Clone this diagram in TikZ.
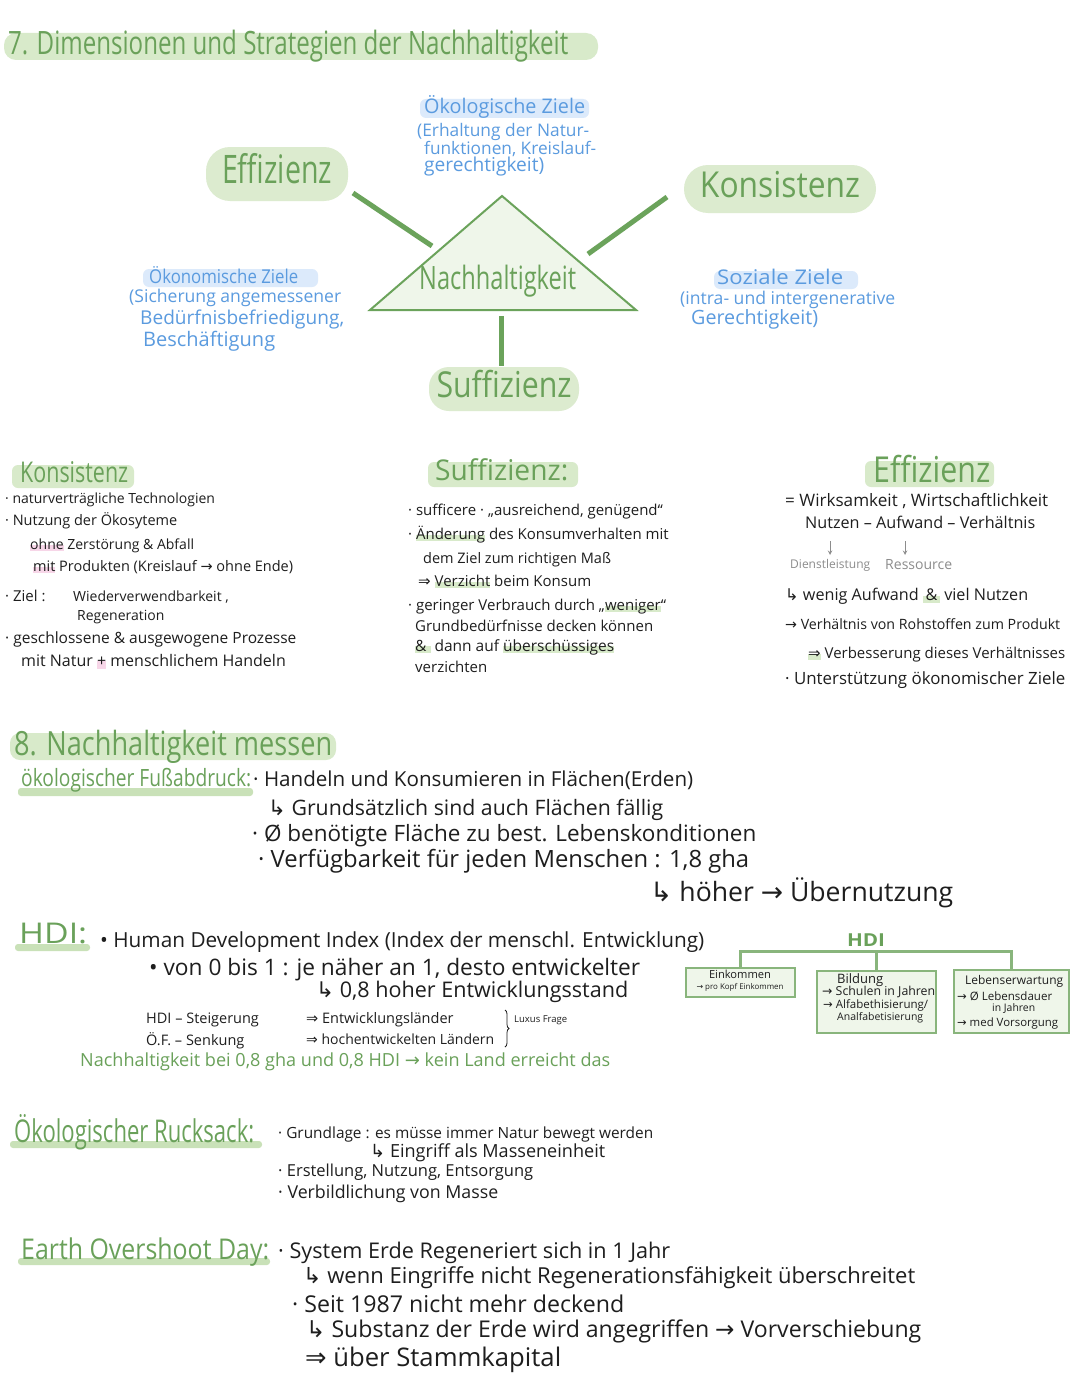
\documentclass[tikz,border=0pt]{standalone}
\usepackage{fontspec}
\setmainfont{Open Sans}
\newfontfamily\dvf{DejaVu Sans}
\usepackage{graphicx}
\usetikzlibrary{decorations.pathreplacing}
\definecolor{gtxt}{HTML}{6AA15A}
\definecolor{ghl}{HTML}{D8EACA}
\definecolor{ghlb}{HTML}{C9E1B8}
\definecolor{gfill}{HTML}{DCEBCF}
\definecolor{tfill}{HTML}{EFF6EA}
\definecolor{gline}{HTML}{6BA35B}
\definecolor{btxt}{HTML}{5B9BDF}
\definecolor{bhl}{HTML}{DCEAFB}
\definecolor{phl}{HTML}{F7D6E8}
\definecolor{ink}{HTML}{1E1E1E}
\definecolor{grayt}{HTML}{8C8C8C}
\newcommand{\myra}{{\dvf →}}
\newcommand{\myRa}{{\dvf ⇒}}
\newcommand{\myhk}{{\dvf ↳}}
% word highlight in the lower half of the letters
\newcommand{\hlw}[2][ghl]{\begingroup\setbox0\hbox{#2}\rlap{\color{#1}\rule[-0.12em]{\wd0}{0.45em}}\box0\endgroup}
\newcommand{\Tw}[6][]{\node[tx,#1] (#2) at (#3,#4) {\resizebox{#5pt}{!}{\strut #6}};}
\newcommand{\Twh}[7][]{\node[tx,#1] (#2) at (#3,#4) {\resizebox{#5pt}{#6pt}{\strut #7}};}
\newcommand{\Tf}[6][]{\node[tx,#1] (#2) at (#3,#4) {\fontsize{#5pt}{#5pt}\selectfont\strut #6};}
\tikzset{
  tx/.style={inner sep=0pt, anchor=west, text=ink},
  hlg/.style={fill=ghl, rounded corners=6pt},
  hlb/.style={fill=bhl, rounded corners=6pt},
  ubar/.style={fill=ghlb, rounded corners=3pt},
  blob/.style={fill=gfill, rounded corners=24pt, inner sep=0pt, text=gtxt},
  conn/.style={draw=gline, line width=5pt},
  tri/.style={draw=gline, line width=2pt, fill=tfill, line join=miter},
  treeline/.style={draw=gline!80, line width=3pt},
  hbox/.style={draw=gline!80, line width=1.5pt, fill=tfill},
  grayarr/.style={draw=grayt, line width=1pt, -stealth},
}
\begin{document}
\begin{tikzpicture}[x=1pt,y=-1pt]
\path[use as bounding box, fill=white] (0,0) rectangle (1080,1394);

% ---------- Title ----------
\fill[hlg, rounded corners=12pt] (4,33) rectangle (598,60);
\Twh[text=gtxt]{title}{8}{47}{560}{27}{7. Dimensionen und Strategien der Nachhaltigkeit}

% ---------- Dimension diagram ----------
\fill[hlb] (420,99) rectangle (589,118);
\Twh[text=btxt]{oekz}{424}{108}{161}{18}{Ökologische Ziele}
\Tw[text=btxt]{oekza}{417}{132}{172}{(Erhaltung der Natur-}
\Tw[text=btxt]{oekzb}{424}{150}{172}{funktionen, Kreislauf-}
\Tw[text=btxt]{oekzc}{424}{167}{120}{gerechtigkeit)}

\node[blob, minimum width=142pt, minimum height=54pt] (effb) at (277,174) {\resizebox{110pt}{33pt}{\strut Effizienz}};
\node[blob, minimum width=192pt, minimum height=48pt] (konb) at (780,189) {\resizebox{160pt}{30pt}{\strut Konsistenz}};
\node[blob, minimum width=150pt, minimum height=44pt, rounded corners=20pt] (sufb) at (504,389) {\resizebox{135pt}{30pt}{\strut Suffizienz}};

\coordinate (tA) at (502,196);
\coordinate (tB) at (370,310);
\coordinate (tC) at (636,310);
\draw[tri] (tA) -- (tB) -- (tC) -- cycle;
\Twh[text=gtxt]{nach}{419}{282}{157}{27}{Nachhaltigkeit}

\coordinate (ea) at (353,193); \coordinate (eb) at (432,246);
\coordinate (ka) at (667,197); \coordinate (kb) at (588,254);
\coordinate (sa) at (501,316); \coordinate (sb) at (501,366);
\draw[conn] (ea) -- (eb);
\draw[conn] (ka) -- (kb);
\draw[conn] (sa) -- (sb);

\fill[hlb] (143,269) rectangle (318,287);
\Twh[text=btxt]{oekon}{149}{278}{149}{17}{Ökonomische Ziele}
\Tw[text=btxt]{oekona}{129}{298}{212}{(Sicherung angemessener}
\Tw[text=btxt]{oekonb}{140}{320}{204}{Bedürfnisbefriedigung,}
\Tw[text=btxt]{oekonc}{143}{342}{132}{Beschäftigung}

\fill[hlb] (714,271) rectangle (858,289);
\Twh[text=btxt]{soz}{717}{280}{126}{17}{Soziale Ziele}
\Tw[text=btxt]{soza}{680}{300}{215}{(intra- und intergenerative}
\Tw[text=btxt]{sozb}{691}{320}{127}{Gerechtigkeit)}

% ---------- Konsistenz ----------
\fill[hlg] (12,465) rectangle (134,488);
\Twh[text=gtxt]{konh}{20}{476}{108}{24}{Konsistenz}
\Tf{ka1}{5}{500}{14}{· naturverträgliche Technologien}
\Tf{ka2}{5}{521}{14.5}{· Nutzung der Ökosyteme}
\Tf{ka3}{30}{546}{14}{\hlw[phl]{ohne} Zerstörung \& Abfall}
\Tf{ka4}{33}{568}{14.5}{\hlw[phl]{mit} Produkten (Kreislauf \myra\ ohne Ende)}
\Tf{ka5}{5}{598}{15}{· Ziel :}
\Tf{ka6}{73}{598}{14}{Wiederverwendbarkeit ,}
\Tf{ka7}{77}{617}{14}{Regeneration}
\Tf{ka8}{5}{640}{15.5}{· geschlossene \& ausgewogene Prozesse}
\Tf{ka9}{21}{663}{16}{mit Natur \hlw[phl]{+} menschlichem Handeln}

% ---------- Suffizienz ----------
\fill[hlg] (428,462) rectangle (578,487);
\Twh[text=gtxt]{sufh}{435}{474}{133}{24}{Suffizienz:}
\Tf{sa1}{408}{512}{15}{· sufficere · „ausreichend, genügend“}
\Tf{sa2}{408}{535}{15}{· \hlw{Änderung} des Konsumverhalten mit}
\Tf{sa3}{423}{560}{14.5}{dem Ziel zum richtigen Maß}
\Tf{sa4}{418}{583}{15}{\myRa\ \hlw{Verzicht} beim Konsum}
\Tf{sa5}{408}{607}{15}{· geringer Verbrauch durch „\hlw{weniger}“}
\Tf{sa6}{415}{628}{15}{Grundbedürfnisse decken können}
\Tf{sa7}{415}{648}{15.5}{\hlw{\&\ } dann auf \hlw{überschüssiges}}
\Tf{sa8}{415}{669}{15}{verzichten}

% ---------- Effizienz ----------
\fill[hlg] (865,461) rectangle (994,487);
\Twh[text=gtxt]{effh}{873}{474}{117}{30}{Effizienz}
\Tw{ea1}{785}{502}{263}{= Wirksamkeit , Wirtschaftlichkeit}
\Tw{ea2}{805}{525}{230}{Nutzen – Aufwand – Verhältnis}
\coordinate (ga1) at (830,541); \coordinate (gb1) at (830,555);
\coordinate (ga2) at (905,541); \coordinate (gb2) at (905,555);
\draw[grayarr] (ga1) -- (gb1);
\draw[grayarr] (ga2) -- (gb2);
\Tw[text=grayt]{ea3}{790}{566}{80}{Dienstleistung}
\Tw[text=grayt]{ea4}{885}{566}{67}{Ressource}
\Tw{ea5}{785}{597}{243}{\myhk\ wenig Aufwand \hlw{\,\&\,} viel Nutzen}
\Tw{ea6}{785}{626}{275}{\myra\ Verhältnis von Rohstoffen zum Produkt}
\Tw{ea7}{808}{655}{257}{\hlw{\myRa}\ Verbesserung dieses Verhältnisses}
\Tw{ea8}{785}{680}{280}{· Unterstützung ökonomischer Ziele}

% ---------- 8. Nachhaltigkeit messen ----------
\fill[hlg, rounded corners=10pt] (10,733) rectangle (336,760);
\Twh[text=gtxt]{hacht}{14}{747}{318}{28}{8. Nachhaltigkeit messen}
\fill[ubar] (18,788) rectangle (253,796);
\Twh[text=gtxt]{fuss}{21}{781}{230}{20}{ökologischer Fußabdruck:}
\Tw{fa1}{253}{782}{440}{· Handeln und Konsumieren in Flächen(Erden)}
\Tw{fa2}{268}{810}{395}{\myhk\ Grundsätzlich sind auch Flächen fällig}
\Tw{fa3}{252}{836}{504}{· Ø benötigte Fläche zu best. Lebenskonditionen}
\Tw{fa4}{258}{862}{491}{· Verfügbarkeit für jeden Menschen : 1,8 gha}
\Tw{fa5}{650}{894}{303}{\myhk\ höher \myra\ Übernutzung}

% ---------- HDI ----------
\fill[ubar] (15,944) rectangle (90,951);
\Twh[text=gtxt]{hdih}{19}{937}{68}{24}{HDI:}
\Tw{ha1}{100}{943}{604}{• Human Development Index (Index der menschl. Entwicklung)}
\Tw{ha2}{149}{970}{491}{• von 0 bis 1 : je näher an 1, desto entwickelter}
\Tw{ha3}{316}{992}{312}{\myhk\ 0,8 hoher Entwicklungsstand}
\Tf{ha4}{146}{1020}{14.5}{HDI – Steigerung}
\Tf{ha5}{306}{1020}{14.5}{\myRa\ Entwicklungsländer}
\Tf{ha6}{146}{1041}{14.5}{Ö.F. – Senkung}
\Tf{ha7}{306}{1041}{14}{\myRa\ hochentwickelten Ländern}
\coordinate (bra) at (505,1010); \coordinate (brb) at (505,1047);
\draw[ink, line width=0.8pt, decorate, decoration={brace, amplitude=4pt}] (bra) -- (brb);
\Tf{lux}{514}{1021}{9.5}{Luxus Frage}
\Tw[text=gtxt]{ha8}{80}{1062}{530}{Nachhaltigkeit bei 0,8 gha und 0,8 HDI \myra\ kein Land erreicht das}

% HDI tree
\node[tx, anchor=center, text=gtxt, font=\bfseries] (hdit) at (866,942) {\resizebox{38pt}{15pt}{\strut HDI}};
\node[hbox, minimum width=109pt, minimum height=29pt, inner sep=0pt] (einb) at (740.5,982.5) {};
\node[hbox, minimum width=119pt, minimum height=62pt, inner sep=0pt] (bildb) at (876.5,1002) {};
\node[hbox, minimum width=115pt, minimum height=63pt, inner sep=0pt] (lebb) at (1011.5,1001.5) {};
\coordinate (bar) at (876.5,952);
\draw[treeline] (einb.north) -- ++(0,-16) -| (lebb.north);
\draw[treeline] (bildb.north) -- (bildb.north |- bar);
\Tw[anchor=center]{t1}{740}{976}{62}{Einkommen}
\Tw[anchor=center]{t2}{740}{988}{87}{\myra\ pro Kopf Einkommen}
\Tw{t3}{837}{980}{46}{Bildung}
\Tw{t4}{822}{993}{113}{\myra\ Schulen in Jahren}
\Tw{t5}{823}{1006}{105}{\myra\ Alfabethisierung/}
\Tw{t6}{837}{1018}{86}{Analfabetisierung}
\Tw{t7}{965}{982}{98}{Lebenserwartung}
\Tw{t8}{957}{998}{95}{\myra\ Ø Lebensdauer}
\Tw{t9}{992}{1009}{43}{in Jahren}
\Tw{t10}{957}{1024}{101}{\myra\ med Vorsorgung}

% ---------- Rucksack ----------
\fill[ubar] (10,1141) rectangle (262,1148);
\Twh[text=gtxt]{ruck}{14}{1134}{240}{28}{Ökologischer Rucksack:}
\Tw{ra1}{278}{1135}{375}{· Grundlage : es müsse immer Natur bewegt werden}
\Tw{ra2}{370}{1153}{235}{\myhk\ Eingriff als Masseneinheit}
\Tw{ra3}{278}{1173}{255}{· Erstellung, Nutzung, Entsorgung}
\Tw{ra4}{278}{1194}{220}{· Verbildlichung von Masse}

% ---------- Earth Overshoot Day ----------
\fill[ubar] (18,1258) rectangle (270,1265);
\Twh[text=gtxt]{eod}{21}{1253}{248}{24}{Earth Overshoot Day:}
\Tw{oa1}{278}{1253}{392}{· System Erde Regeneriert sich in 1 Jahr}
\Tw{oa2}{303}{1278}{612}{\myhk\ wenn Eingriffe nicht Regenerationsfähigkeit überschreitet}
\Tw{oa3}{292}{1307}{332}{· Seit 1987 nicht mehr deckend}
\Tw{oa4}{306}{1332}{615}{\myhk\ Substanz der Erde wird angegriffen \myra\ Vorverschiebung}
\Tw{oa5}{305}{1360}{256}{\myRa\ über Stammkapital}
\end{tikzpicture}
\end{document}
